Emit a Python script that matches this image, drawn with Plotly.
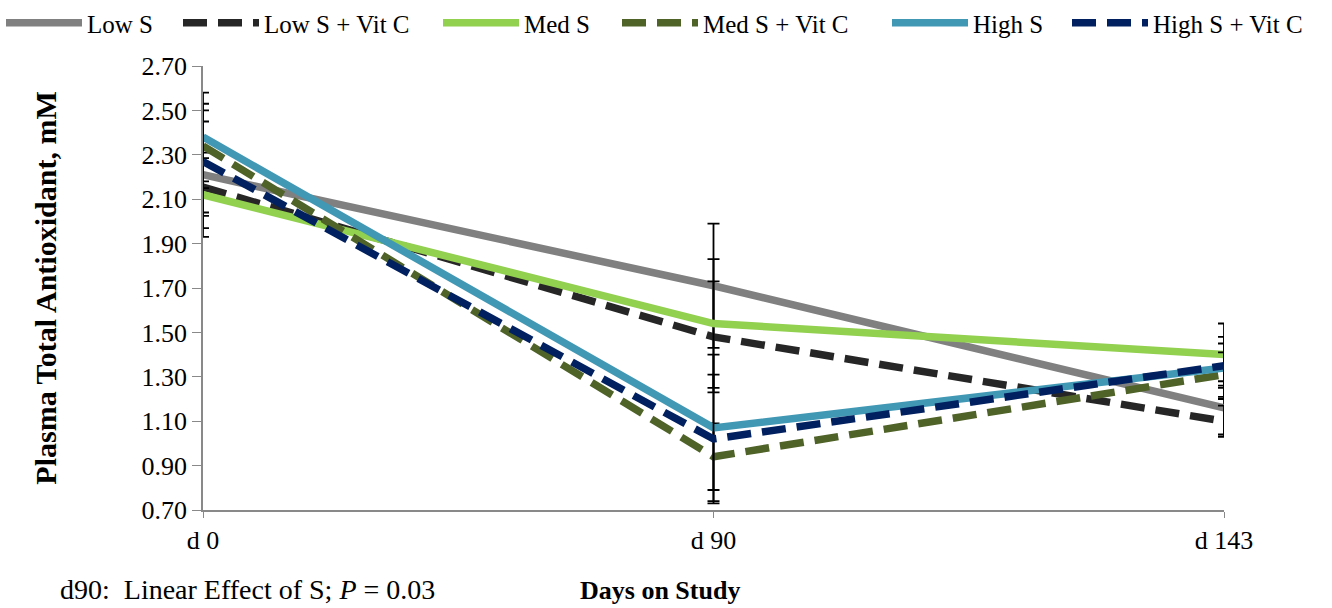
import plotly.graph_objects as go

days = ["d 0", "d 90", "d 143"]

series_names = ["Low S", "Low S + Vit C", "Med S", "Med S + Vit C", "High S", "High S + Vit C"]
low_s = [2.21, 1.71, 1.16]
low_s_vitc = [2.155, 1.48, 1.10]
med_s = [2.12, 1.54, 1.40]
med_s_vitc = [2.34, 0.94, 1.31]
high_s = [2.38, 1.07, 1.34]
high_s_vitc = [2.27, 1.02, 1.35]

low_s_se = [0.24, 0.28, 0.12]
low_s_vitc_se = [0.13, 0.25, 0.07]
med_s_se = [0.19, 0.29, 0.14]
med_s_vitc_se = [0.19, 0.15, 0.10]
high_s_se = [0.20, 0.33, 0.14]
high_s_vitc_se = [0.23, 0.29, 0.10]

values = [low_s, low_s_vitc, med_s, med_s_vitc, high_s, high_s_vitc]
errors = [low_s_se, low_s_vitc_se, med_s_se, med_s_vitc_se, high_s_se, high_s_vitc_se]
colors = ["#808080", "#262626", "#92D050", "#4F6228", "#4198B5", "#002060"]
dashes = ["solid", "24px,11px", "solid", "24px,11px", "solid", "24px,11px"]

# legend entry left edges in pixels (figure coords)
legend_px = [1, 178, 438, 617, 887, 1067]

FONT = "Liberation Serif, Times New Roman, serif"
L, R, T, B = 203, 108, 66, 98
W, H = 1332, 608
PW = W - L - R
PH = H - T - B

fig = go.Figure()
legend_layout = {}
for i, (name, v, e, c, d, lx) in enumerate(zip(series_names, values, errors, colors, dashes, legend_px)):
    lname = "legend" if i == 0 else f"legend{i+1}"
    fig.add_trace(go.Scatter(
        x=days, y=v, name=name, mode="lines",
        line=dict(color=c, width=7.5, dash=d),
        error_y=dict(type="data", array=e, visible=True, color="black", thickness=1.8, width=6),
        legend=lname,
    ))
    legend_layout[lname] = dict(
        orientation="h", x=(lx - L) / PW, xanchor="left", y=1.0, yanchor="top",
        yref="container", font=dict(family=FONT, size=25, color="black"),
        itemwidth=76, bgcolor="rgba(0,0,0,0)", borderwidth=0,
    )

fig.update_layout(
    width=W, height=H,
    margin=dict(l=L, r=R, t=T, b=B, autoexpand=False),
    paper_bgcolor="white", plot_bgcolor="white",
    font=dict(family=FONT, size=25, color="black"),
    showlegend=True,
    xaxis=dict(
        type="category", range=[0, 2], showgrid=False, showline=True,
        linecolor="#898989", linewidth=1.5, ticks="outside", ticklen=6, tickcolor="#898989",
        tickfont=dict(family=FONT, size=26), zeroline=False,
    ),
    yaxis=dict(
        range=[0.70, 2.70], dtick=0.2, tick0=0.7, tickformat=".2f", showgrid=False,
        showline=True, linecolor="#898989", linewidth=1.5, ticks="outside", ticklen=9,
        tickcolor="#898989", tickfont=dict(family=FONT, size=26), zeroline=False,
        title=dict(text="<b>Plasma Total Antioxidant, mM</b>", font=dict(family=FONT, size=30), standoff=76),
    ),
    **legend_layout,
)

# x-axis title, centred on the chart area as in the original
fig.add_annotation(
    text="<b>Days on Study</b>",
    xref="paper", yref="paper", x=(660 - L) / PW, y=-(590 - T - PH) / PH,
    xanchor="center", yanchor="middle",
    showarrow=False, font=dict(family=FONT, size=26, color="black"),
)

fig.add_annotation(
    text="d90:  Linear Effect of S; <i>P</i> = 0.03",
    xref="paper", yref="paper", x=(58 - L) / PW, y=-B / PH,
    xanchor="left", yanchor="bottom", yshift=1,
    showarrow=False, font=dict(family=FONT, size=28, color="black"),
)

fig.write_html("out.html")
